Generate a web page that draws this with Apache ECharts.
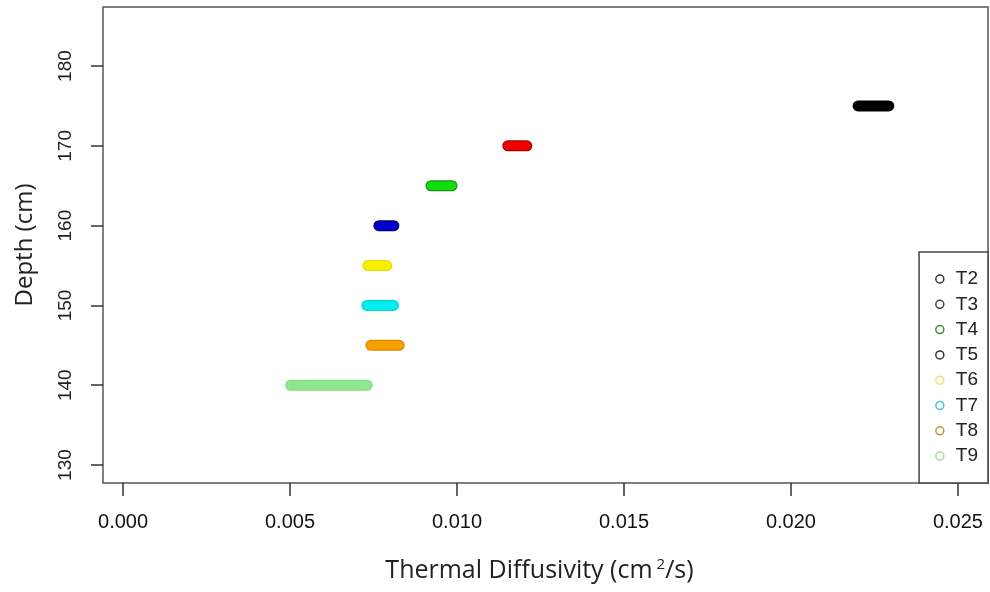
<!DOCTYPE html>
<html>
<head>
<meta charset="utf-8">
<script src="https://cdn.jsdelivr.net/npm/echarts@6/dist/echarts.min.js"></script>
<style>
  html, body { margin: 0; padding: 0; background: #fff; }
  #chart { width: 990px; height: 592px; }
</style>
</head>
<body>
<div id="chart"></div>
<script>
// Sensors, their depth and the diffusivity range each one covers
const sensors = ['T2', 'T3', 'T4', 'T5', 'T6', 'T7', 'T8', 'T9']
const depths = [175, 170, 165, 160, 155, 150, 145, 140]
const diffMin = [0.02201, 0.01152, 0.00922, 0.00766, 0.00733, 0.00730, 0.00742, 0.00502]
const diffMax = [0.02293, 0.01209, 0.00985, 0.00811, 0.00790, 0.00810, 0.00827, 0.00731]
const colors = ['#000000', '#ee0000', '#11dd11', '#0000cc', '#f8f000', '#00eeee', '#f5a000', '#8ee68e']
const edgeColors = ['#000000', '#a00000', '#119911', '#000066', '#e8dc00', '#00d8d8', '#d88c00', '#84dc84']
const legendColors = ['#333333', '#444444', '#3a8a3a', '#333333', '#eee070', '#40c4d4', '#b89838', '#a8d8a8']
const xTicks = [0, 0.005, 0.01, 0.015, 0.02, 0.025]
const yTicks = [130, 140, 150, 160, 170, 180]

const chart = echarts.init(document.getElementById('chart'))

const segment = (i) => [[diffMin[i], depths[i]], [diffMax[i], depths[i]]]

// darker outline first, coloured fill on top
const edges = sensors.map((name, i) => ({
  name: name + ' edge',
  type: 'line',
  symbol: 'none',
  silent: true,
  data: segment(i),
  lineStyle: { color: edgeColors[i], width: 11, cap: 'round' },
}))

const fills = sensors.map((name, i) => ({
  name: name,
  type: 'line',
  symbol: 'none',
  silent: true,
  data: segment(i),
  itemStyle: { color: colors[i] },
  lineStyle: { color: colors[i], width: 8.5, cap: 'round' },
}))

const option = {
  backgroundColor: '#fff',
  animation: false,
  grid: {
    left: 103, right: 2, top: 7, bottom: 109,
    show: true, borderColor: '#555', borderWidth: 1.5,
  },
  xAxis: {
    type: 'value',
    min: -0.0006,
    max: 0.0259,
    splitLine: { show: false },
    axisLine: { show: false, onZero: false },
    axisTick: { show: true, inside: false, customValues: xTicks, length: 13, lineStyle: { color: '#333', width: 1.5 } },
    axisLabel: {
      customValues: xTicks,
      margin: 29,
      fontSize: 20,
      color: '#111',
      fontFamily: 'Liberation Sans Narrow, Liberation Sans, Arial',
      formatter: (v) => v.toFixed(3),
    },
    name: 'Thermal Diffusivity (cm{sup|2}/s)',
    nameLocation: 'middle',
    nameGap: 74,
    nameTextStyle: {
      fontSize: 25,
      color: '#222',
      fontFamily: 'Open Sans',
      padding: [0, 12, 0, 0],
      rich: {
        sup: { fontSize: 15, color: '#222', fontFamily: 'Open Sans', verticalAlign: 'top', padding: [0, 0, 12, 4] },
      },
    },
  },
  yAxis: {
    type: 'value',
    min: 127.75,
    max: 187.4,
    splitLine: { show: false },
    axisLine: { show: false, onZero: false },
    axisTick: { show: true, inside: false, customValues: yTicks, length: 12, lineStyle: { color: '#333', width: 1.5 } },
    axisLabel: {
      customValues: yTicks,
      rotate: 90,
      margin: 28,
      fontSize: 19,
      color: '#222',
      fontFamily: 'Liberation Sans, Arial',
    },
    name: 'Depth (cm)',
    nameLocation: 'middle',
    nameRotate: 90,
    nameGap: 66,
    nameTextStyle: { fontSize: 24, color: '#222', fontFamily: 'Open Sans' },
  },
  legend: {
    orient: 'vertical',
    right: 2,
    top: 252,
    padding: [17, 10, 17, 16],
    backgroundColor: '#fff',
    borderColor: '#444',
    borderWidth: 1.5,
    borderRadius: 0,
    icon: 'circle',
    itemWidth: 8,
    itemHeight: 8,
    itemGap: 5.3,
    selectedMode: false,
    textStyle: { fontSize: 19, lineHeight: 20, color: '#222', fontFamily: 'Liberation Sans, Arial', padding: [0, 0, 0, 7] },
    data: sensors.map((name, i) => ({
      name: name,
      itemStyle: { color: '#fff', borderColor: legendColors[i], borderWidth: 1.5 },
    })),
  },
  series: edges.concat(fills),
}

chart.setOption(option)
</script>
</body>
</html>
